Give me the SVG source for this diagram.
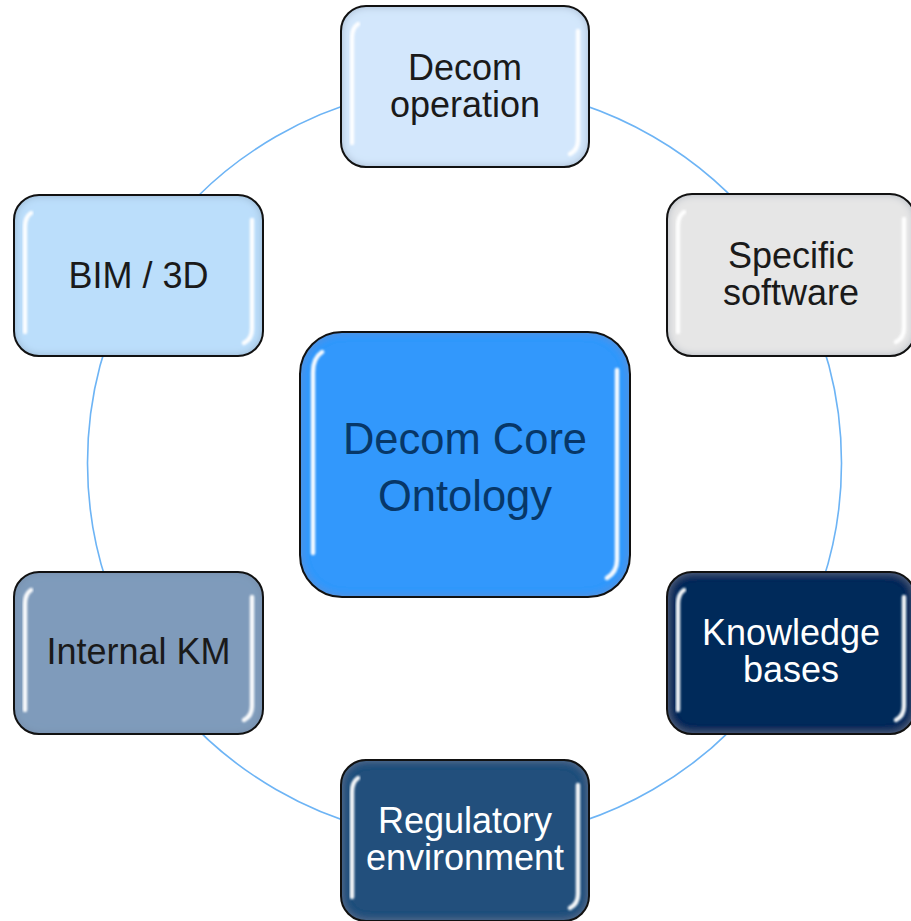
<svg xmlns="http://www.w3.org/2000/svg" width="911" height="921" viewBox="0 0 911 921">
<defs>
<style>
.conn{fill:none;stroke:#6db4f5;stroke-width:1.6}
.bx{stroke:none;filter:url(#ig)}
.bd{fill:none;stroke:#111;stroke-width:2}
.hl{fill:none;stroke:#fff;stroke-width:4.5;stroke-linecap:round;filter:url(#sb);opacity:0.95}
.t{font-family:"Liberation Sans",Arial,sans-serif;font-size:36px;text-anchor:middle}
.dk{fill:#1a1a1a}
.wt{fill:#fff}
.ct{font-size:43.5px;fill:#073768}
</style>
<filter id="ig" x="-5%" y="-5%" width="110%" height="110%">
<feGaussianBlur in="SourceAlpha" stdDeviation="4" result="b"/>
<feComposite in="SourceAlpha" in2="b" operator="arithmetic" k2="1" k3="-1" result="edge"/>
<feFlood flood-color="#70849c" flood-opacity="0.7"/>
<feComposite in2="edge" operator="in" result="glow"/>
<feMerge><feMergeNode in="SourceGraphic"/><feMergeNode in="glow"/></feMerge>
</filter>
<filter id="sb" x="-50%" y="-10%" width="200%" height="120%">
<feGaussianBlur stdDeviation="0.9"/>
</filter>
</defs>
<rect width="911" height="921" fill="#fff"/>
<g id="connectors">
<path class="conn" d="M464.5,86 A377,377 0 0 1 791,274.5"/>
<path class="conn" d="M791,274.5 A377,377 0 0 1 791,651.5"/>
<path class="conn" d="M791,651.5 A377,377 0 0 1 464.5,840"/>
<path class="conn" d="M464.5,840 A377,377 0 0 1 138,651.5"/>
<path class="conn" d="M138,651.5 A377,377 0 0 1 138,274.5"/>
<path class="conn" d="M138,274.5 A377,377 0 0 1 464.5,86"/>
</g>
<g id="node-decom-operation">
<rect class="bx" x="341" y="6" width="248" height="161" rx="25" fill="#d3e7fc"/>
<path class="hl" d="M358,24 Q352,28 352,38 L352,143"/>
<path class="hl" d="M578,31 L578,140 Q578,150 570,154"/>
<rect class="bd" x="341" y="6" width="248" height="161" rx="25"/>
<text class="t dk" x="465" y="80">Decom</text>
<text class="t dk" x="465" y="117">operation</text>
</g>
<g id="node-specific-software">
<rect class="bx" x="667" y="194" width="248" height="162" rx="25" fill="#e6e6e6"/>
<path class="hl" d="M684,212 Q678,216 678,226 L678,332"/>
<path class="hl" d="M904,219 L904,328 Q904,338 896,342"/>
<rect class="bd" x="667" y="194" width="248" height="162" rx="25"/>
<text class="t dk" x="791" y="268">Specific</text>
<text class="t dk" x="791" y="305">software</text>
</g>
<g id="node-knowledge-bases">
<rect class="bx" x="667" y="572" width="248" height="162" rx="25" fill="#022b5a"/>
<path class="hl" d="M684,590 Q678,594 678,604 L678,710"/>
<path class="hl" d="M904,597 L904,706 Q904,716 896,720"/>
<rect class="bd" x="667" y="572" width="248" height="162" rx="25"/>
<text class="t wt" x="791" y="645">Knowledge</text>
<text class="t wt" x="791" y="682">bases</text>
</g>
<g id="node-regulatory-environment">
<rect class="bx" x="341" y="760" width="248" height="161" rx="25" fill="#234f7b"/>
<path class="hl" d="M358,778 Q352,782 352,792 L352,897"/>
<path class="hl" d="M578,785 L578,894 Q578,904 570,908"/>
<rect class="bd" x="341" y="760" width="248" height="161" rx="25"/>
<text class="t wt" x="465" y="833">Regulatory</text>
<text class="t wt" x="465" y="870">environment</text>
</g>
<g id="node-internal-km">
<rect class="bx" x="14" y="572" width="249" height="162" rx="25" fill="#7f9bbb"/>
<path class="hl" d="M31,590 Q25,594 25,604 L25,710"/>
<path class="hl" d="M252,597 L252,706 Q252,716 244,720"/>
<rect class="bd" x="14" y="572" width="249" height="162" rx="25"/>
<text class="t dk" x="138.5" y="664">Internal KM</text>
</g>
<g id="node-bim-3d">
<rect class="bx" x="14" y="195" width="249" height="161" rx="25" fill="#bbdefb"/>
<path class="hl" d="M31,213 Q25,217 25,227 L25,332"/>
<path class="hl" d="M252,220 L252,329 Q252,339 244,343"/>
<rect class="bd" x="14" y="195" width="249" height="161" rx="25"/>
<text class="t dk" x="138.5" y="288">BIM / 3D</text>
</g>
<g id="node-decom-core-ontology">
<rect class="bx" x="300" y="332" width="330" height="265" rx="42" fill="#3298fc"/>
<path class="hl" d="M322,352 Q313,358 313,372 L313,553"/>
<path class="hl" d="M617,370 L617,560 Q617,572 607,578"/>
<rect class="bd" x="300" y="332" width="330" height="265" rx="42"/>
<text class="t ct" x="465" y="454">Decom Core</text>
<text class="t ct" x="465" y="511">Ontology</text>
</g>
</svg>
